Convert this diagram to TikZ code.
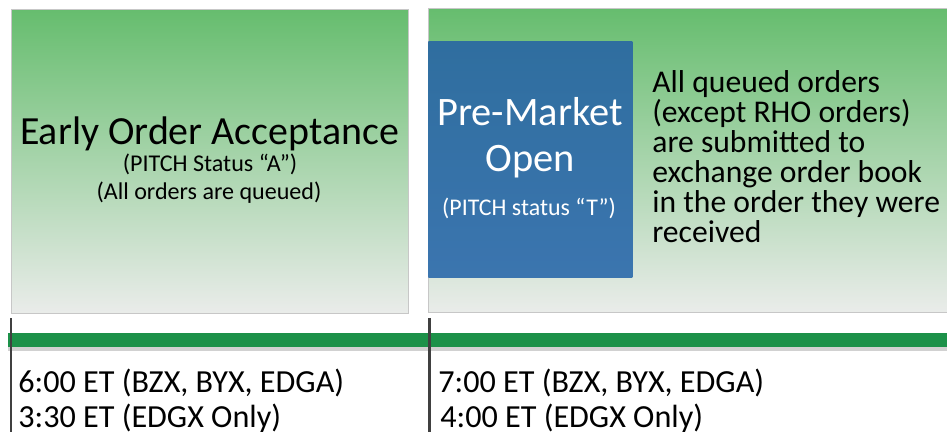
\documentclass[tikz,border=0pt]{standalone}
\usepackage{fontspec}
\setmainfont{Carlito}
\usetikzlibrary{positioning}
\definecolor{phasetop}{HTML}{66BD6E}
\definecolor{phasebot}{HTML}{EAECEA}
\definecolor{openblue}{HTML}{2F6E9F}
\definecolor{openblue2}{HTML}{3B75AF}
\definecolor{barGreen}{HTML}{1C9149}
\tikzstyle{phase} = [rectangle, draw=black!22, line width=0.6pt, top color=phasetop, bottom color=phasebot, inner sep=0pt]
\tikzstyle{openbox} = [rectangle, top color=openblue, bottom color=openblue2, inner sep=0pt]
\tikzstyle{timetext} = [anchor=base west, inner sep=0pt, font=\fontsize{18.3}{20}\selectfont]

\begin{document}
\begin{tikzpicture}
    \useasboundingbox (0,0) rectangle (18.94,-8.62);
    \clip (0,0) rectangle (18.94,-8.62);
        \node[phase, minimum width=7.94cm, minimum height=6.08cm, anchor=north west] (early) at (0.22,-0.18) {};
        \node[phase, minimum width=10.8cm, minimum height=6.08cm, anchor=north west] (premkt) at (8.56,-0.16) {};
        \node[openbox, minimum width=4.08cm, minimum height=4.72cm, anchor=north west] (open) at (8.56,-0.82) {};
        \node[anchor=base, font=\fontsize{22.7}{26}\selectfont] (earlyT) at (4.19,-2.88) {Early Order Acceptance};
        \node[anchor=base, font=\fontsize{13.7}{16}\selectfont] (earlyS) at (4.2,-3.42) {(PITCH Status “A”)};
        \node[anchor=base, font=\fontsize{13.7}{16}\selectfont] (earlyQ) at (4.18,-3.98) {(All orders are queued)};
        \node[anchor=base, text=white, font=\fontsize{23}{26}\selectfont] (openT) at (10.6,-2.5) {Pre-Market};
        \node[anchor=base, text=white, font=\fontsize{23}{26}\selectfont] (openO) at (10.6,-3.42) {Open};
        \node[anchor=base, text=white, font=\fontsize{13.6}{16}\selectfont] (openS) at (10.58,-4.3) {(PITCH status “T”)};
        \node[anchor=west, inner sep=0pt, align=left, font=\fontsize{18}{17}\selectfont] (submit) at (13.04,-3.13)
            {All queued orders\\(except RHO orders)\\are submitted to\\exchange order book\\in the order they were\\received};
    \begin{scope}
        \fill[black!18] (0.16,-6.94) rectangle (19.2,-7.02);
        \fill[barGreen] (0.16,-6.66) rectangle (19.2,-6.94);
        \draw[black!75, line width=1.7pt] (0.22,-6.36) coordinate (tickA) -- (0.22,-8.7);
        \draw[black!75, line width=1.7pt] (8.58,-6.36) coordinate (tickB) -- (8.58,-8.7);
    \end{scope}
        \node[timetext] (t1) at (0.36,-7.84) {6:00 ET (BZX, BYX, EDGA)};
        \node[timetext] (t2) at (0.36,-8.54) {3:30 ET (EDGX Only)};
        \node[timetext] (t3) at (8.76,-7.84) {7:00 ET (BZX, BYX, EDGA)};
        \node[timetext] (t4) at (8.8,-8.54) {4:00 ET (EDGX Only)};
    \end{tikzpicture}
\end{document}
